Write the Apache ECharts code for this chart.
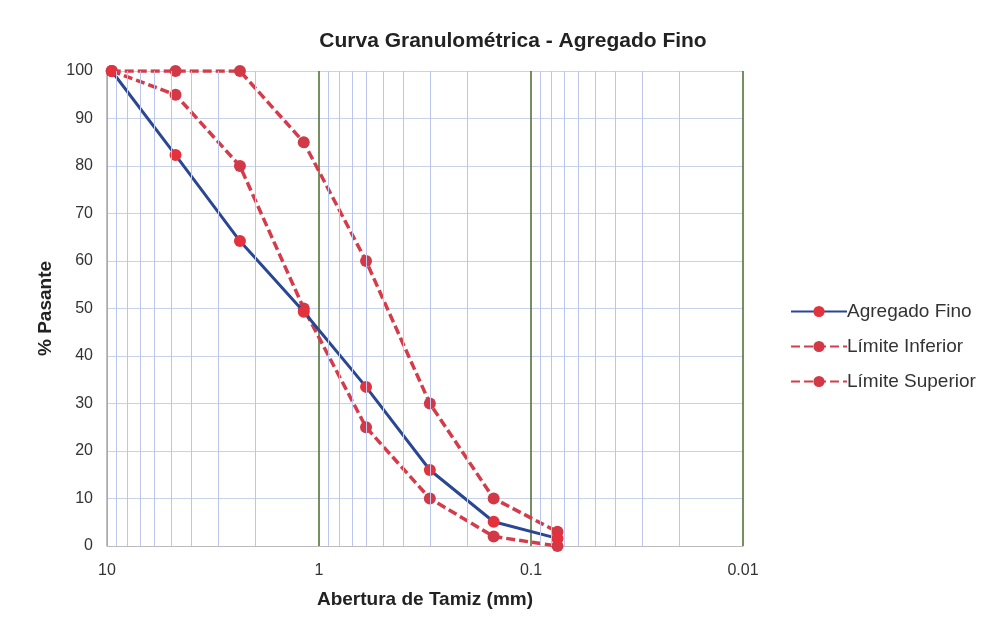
<!DOCTYPE html>
<html><head><meta charset="utf-8">
<script src="https://cdn.jsdelivr.net/npm/echarts@6/dist/echarts.min.js"></script>
<style>html,body{margin:0;padding:0;background:#fff}#c{width:996px;height:630px}</style>
</head><body><div id="c"></div>
<script>
const sieves = [9.5, 4.75, 2.36, 1.18, 0.6, 0.3, 0.15, 0.075];
const agregadoFino = [100, 82.3, 64.2, 49.3, 33.5, 16, 5.1, 1.6];
const limiteInferior = [100, 95, 80, 50, 25, 10, 2, 0];
const limiteSuperior = [100, 100, 100, 85, 60, 30, 10, 3];
const decades = [1, 0.1, 0.01];
const minorMultipliers = [2, 3, 4, 5, 6, 7, 8, 9];
const minorGrid = [];
decades.forEach(d => minorMultipliers.forEach(m => minorGrid.push(+(d * m).toPrecision(3))));

const pair = vals => sieves.map((s, i) => [s, vals[i]]);
const FONT = 'Liberation Sans, Arial, sans-serif';

const chart = echarts.init(document.getElementById('c'), null, {renderer: 'canvas'});
chart.setOption({
  animation: false,
  backgroundColor: '#fff',
  title: {
    text: 'Curva Granulométrica - Agregado Fino',
    left: 508, top: 26, textAlign: 'center',
    textStyle: {fontFamily: FONT, fontSize: 21, fontWeight: 'bold', color: '#222'}
  },
  legend: {
    orient: 'vertical', left: 785, top: 297, itemGap: 16,
    itemWidth: 56, itemHeight: 14,
    data: ['Agregado Fino', 'Límite Inferior', 'Límite Superior'],
    textStyle: {fontFamily: FONT, fontSize: 19, color: '#333', padding: [0, 0, 0, -5]}
  },
  grid: {left: 107, right: 253, top: 71, bottom: 84},
  xAxis: {
    type: 'log', logBase: 10, min: 0.01, max: 10, inverse: true,
    name: 'Abertura de Tamiz (mm)', nameLocation: 'middle', nameGap: 44,
    nameTextStyle: {fontFamily: FONT, fontSize: 19, fontWeight: 'bold', color: '#222'},
    axisLine: {show: true, lineStyle: {color: '#bbbbbb', width: 1}},
    axisTick: {show: false},
    axisLabel: {fontFamily: FONT, fontSize: 16, color: '#333', margin: 17},
    splitLine: {show: true, lineStyle: {color: ['#4a6a2a', '#4a6a2a', '#4a6a2a', '#aaaaaa'], width: 1.5}},
    minorTick: {show: false}, minorSplitLine: {show: false}
  },
  yAxis: {
    type: 'value', min: 0, max: 100, interval: 10,
    name: '% Pasante', nameLocation: 'middle', nameGap: 50, nameRotate: 90,
    nameTextStyle: {fontFamily: FONT, fontSize: 19, fontWeight: 'bold', color: '#222'},
    axisLine: {show: true, lineStyle: {color: '#aaaaaa', width: 1}},
    axisTick: {show: false},
    axisLabel: {fontFamily: FONT, fontSize: 16, color: '#333', margin: 14},
    splitLine: {show: true, lineStyle: {color: '#cad1ea', width: 1}}
  },
  series: [
    {
      name: 'grid-minor', type: 'line', data: [], z: 1, silent: true,
      markLine: {
        silent: true, symbol: ['none', 'none'], label: {show: false},
        lineStyle: {color: '#bcc6ec', width: 1, type: 'solid'},
        data: minorGrid.map(v => ({xAxis: v}))
      }
    },
    {
      name: 'Límite Inferior', type: 'line', data: pair(limiteInferior), z: 3,
      symbol: 'circle', symbolSize: 12,
      lineStyle: {color: '#d43c4b', width: 3.5, type: [9, 4]},
      itemStyle: {color: '#d23846'}
    },
    {
      name: 'Límite Superior', type: 'line', data: pair(limiteSuperior), z: 3,
      symbol: 'circle', symbolSize: 12,
      lineStyle: {color: '#d43c4b', width: 3.5, type: [9, 4]},
      itemStyle: {color: '#d23846'}
    },
    {
      name: 'Agregado Fino', type: 'line', data: pair(agregadoFino), z: 4,
      symbol: 'circle', symbolSize: 12,
      lineStyle: {color: '#2b4793', width: 3},
      itemStyle: {color: '#e3323c'}
    }
  ]
});
</script></body></html>
